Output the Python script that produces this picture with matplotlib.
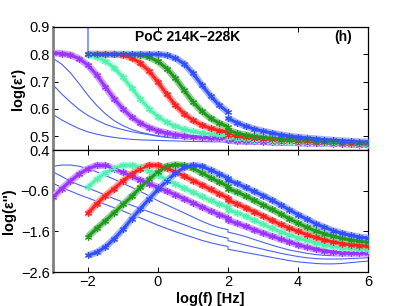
import numpy as np
import matplotlib
matplotlib.use("Agg")
import matplotlib.pyplot as plt

plt.rcParams['font.family'] = ['Liberation Sans', 'DejaVu Sans']

# ---------------- data ----------------
LOGF = [-3.0, -2.75, -2.5, -2.25, -2.0, -1.75, -1.5, -1.25, -1.0, -0.75, -0.5, -0.25,
        0.0, 0.25, 0.5, 0.75, 1.0, 1.25, 1.5, 1.75, 2.0,
        2.0, 2.25, 2.5, 2.75, 3.0, 3.25, 3.5, 3.75, 4.0, 4.25, 4.5, 4.75, 5.0, 5.25, 5.5, 5.75, 6.0]
LOGF_M = LOGF[4:]  # marker series start at -2

# log(eps') top panel
EPS1_BLUE = [0.800, 0.800, 0.800, 0.800, 0.800, 0.800, 0.800, 0.800, 0.800, 0.797, 0.786, 0.765, 0.730, 0.688, 0.648, 0.614, 0.588,
             0.566, 0.550, 0.537, 0.527, 0.519, 0.512, 0.506, 0.501, 0.497, 0.494, 0.491, 0.488, 0.486, 0.484, 0.482, 0.480, 0.479]
EPS1_GREEN = [0.800, 0.800, 0.800, 0.800, 0.800, 0.800, 0.797, 0.790, 0.774, 0.748, 0.712, 0.668, 0.626, 0.592, 0.566, 0.548, 0.535,
              0.522, 0.512, 0.505, 0.500, 0.496, 0.493, 0.491, 0.489, 0.487, 0.485, 0.483, 0.482, 0.480, 0.479, 0.478, 0.477, 0.476]
EPS1_RED = [0.800, 0.800, 0.800, 0.800, 0.797, 0.787, 0.768, 0.738, 0.698, 0.654, 0.614, 0.582, 0.558, 0.541, 0.529, 0.521, 0.515,
            0.505, 0.500, 0.496, 0.493, 0.491, 0.489, 0.487, 0.485, 0.484, 0.482, 0.481, 0.480, 0.478, 0.477, 0.476, 0.475, 0.474]
EPS1_AQUA = [0.797, 0.790, 0.775, 0.750, 0.716, 0.676, 0.636, 0.600, 0.572, 0.551, 0.536, 0.526, 0.518, 0.512, 0.508, 0.505, 0.502,
             0.495, 0.492, 0.489, 0.487, 0.485, 0.484, 0.482, 0.481, 0.480, 0.479, 0.478, 0.477, 0.476, 0.475, 0.474, 0.473, 0.472]
EPS1_PURPLE = [0.805, 0.803, 0.798, 0.784, 0.760, 0.724, 0.680, 0.637, 0.600, 0.570, 0.548, 0.532, 0.520, 0.512, 0.506, 0.502,
               0.499, 0.497, 0.495, 0.494, 0.493,
               0.486, 0.484, 0.483, 0.482, 0.481, 0.480, 0.479, 0.478, 0.477, 0.476, 0.475, 0.474, 0.473, 0.472, 0.471, 0.470, 0.469]
EPS1_THIN_A = [0.785, 0.764, 0.732, 0.692, 0.650, 0.613, 0.582, 0.557, 0.539, 0.525, 0.515, 0.508, 0.502, 0.498, 0.495, 0.493,
               0.491, 0.489, 0.488, 0.487, 0.486,
               0.480, 0.479, 0.478, 0.477, 0.476, 0.475, 0.474, 0.473, 0.472, 0.471, 0.470, 0.469, 0.468, 0.468, 0.467, 0.467, 0.466]
EPS1_THIN_B = [0.688, 0.655, 0.625, 0.598, 0.576, 0.559, 0.544, 0.533, 0.524, 0.517, 0.511, 0.506, 0.500, 0.496, 0.493, 0.491,
               0.489, 0.487, 0.486, 0.485, 0.484,
               0.478, 0.477, 0.476, 0.475, 0.474, 0.473, 0.472, 0.471, 0.470, 0.469, 0.468, 0.467, 0.466, 0.466, 0.465, 0.465, 0.464]
EPS1_THIN_C = [0.580, 0.560, 0.543, 0.528, 0.516, 0.508, 0.501, 0.496, 0.492, 0.489, 0.487, 0.486, 0.485, 0.484, 0.483, 0.482,
               0.481, 0.481, 0.480, 0.480, 0.479,
               0.474, 0.473, 0.472, 0.471, 0.470, 0.469, 0.468, 0.467, 0.466, 0.465, 0.465, 0.464, 0.463, 0.463, 0.462, 0.462, 0.461]
SPIKE_X = [-2.0, -2.0]
SPIKE_Y = [0.800, 0.950]

# log(eps'') bottom panel
EPS2_BLUE = [-2.19, -2.12, -1.98, -1.78, -1.55, -1.29, -1.04, -0.80, -0.57, -0.36, -0.17, -0.03, 0.03, 0.00, -0.09, -0.19, -0.29,
             -0.34, -0.42, -0.52, -0.62, -0.72, -0.83, -0.95, -1.07, -1.19, -1.30, -1.41, -1.50, -1.58, -1.65, -1.70, -1.74, -1.77]
EPS2_GREEN = [-1.73, -1.53, -1.34, -1.14, -0.94, -0.74, -0.52, -0.32, -0.14, 0.00, 0.04, 0.02, -0.05, -0.16, -0.28, -0.39, -0.49,
              -0.55, -0.63, -0.73, -0.84, -0.95, -1.06, -1.17, -1.29, -1.40, -1.50, -1.59, -1.66, -1.72, -1.77, -1.81, -1.84, -1.87]
EPS2_RED = [-1.16, -0.92, -0.72, -0.55, -0.36, -0.19, -0.06, 0.03, 0.02, -0.05, -0.14, -0.24, -0.35, -0.46, -0.57, -0.68, -0.78,
            -0.84, -0.92, -1.02, -1.12, -1.22, -1.33, -1.43, -1.52, -1.60, -1.68, -1.75, -1.81, -1.86, -1.90, -1.93, -1.95, -1.97]
EPS2_AQUA = [-0.51, -0.32, -0.16, -0.05, 0.02, 0.03, -0.03, -0.12, -0.22, -0.33, -0.44, -0.54, -0.64, -0.74, -0.84, -0.93, -1.01,
             -1.07, -1.14, -1.23, -1.33, -1.43, -1.52, -1.61, -1.69, -1.76, -1.82, -1.88, -1.93, -1.97, -2.00, -2.02, -2.04, -2.05]
EPS2_PURPLE = [-0.76, -0.55, -0.36, -0.19, -0.06, 0.02, 0.02, -0.06, -0.15, -0.25, -0.34, -0.43, -0.52, -0.61, -0.70, -0.80,
               -0.90, -1.00, -1.10, -1.19, -1.27,
               -1.33, -1.40, -1.48, -1.56, -1.64, -1.72, -1.79, -1.86, -1.93, -1.99, -2.04, -2.08, -2.11, -2.13, -2.14, -2.14, -2.14]
EPS2_THIN_A = [0.00, 0.03, 0.03, 0.00, -0.06, -0.14, -0.23, -0.32, -0.42, -0.52, -0.62, -0.73, -0.85, -0.95, -1.05, -1.15,
               -1.25, -1.35, -1.44, -1.51, -1.56,
               -1.62, -1.67, -1.73, -1.80, -1.87, -1.94, -2.00, -2.06, -2.10, -2.14, -2.17, -2.19, -2.20, -2.20, -2.20, -2.19, -2.18]
EPS2_THIN_B = [-0.14, -0.25, -0.37, -0.46, -0.54, -0.62, -0.71, -0.80, -0.88, -0.96, -1.04, -1.12, -1.20, -1.28, -1.36, -1.44,
               -1.52, -1.59, -1.66, -1.72, -1.77,
               -1.83, -1.88, -1.94, -1.99, -2.04, -2.09, -2.14, -2.18, -2.22, -2.25, -2.27, -2.28, -2.28, -2.28, -2.27, -2.26, -2.25]
EPS2_THIN_C = [-0.42, -0.52, -0.61, -0.70, -0.78, -0.86, -0.94, -1.02, -1.10, -1.19, -1.27, -1.36, -1.45, -1.53, -1.61, -1.68,
               -1.75, -1.82, -1.88, -1.93, -1.97,
               -2.04, -2.08, -2.12, -2.16, -2.20, -2.24, -2.28, -2.32, -2.35, -2.37, -2.39, -2.40, -2.40, -2.39, -2.37, -2.35, -2.33]

XTICKS = [-2, 0, 2, 4, 6]
YTICKS_TOP = [0.5, 0.6, 0.7, 0.8, 0.9]
YTICKS_BOT = [-2.6, -1.6, -0.6, 0.4]
TITLE = "PoC 214K\u2013228K"
PANEL = "(h)"

# ---------------- styles ----------------
COL_THIN = '#4a63f2'
SERIES_STYLE = {
    'blue':   ('#3050ff', '#a6b2ff'),
    'green':  ('#1f9a1f', '#8fd08f'),
    'red':    ('#ff2020', '#ff9c9c'),
    'aqua':   ('#52f0ae', '#b2ffe0'),
    'purple': ('#9a34ff', '#cfa0ff'),
}


def split_at_jump(x, y):
    x = np.asarray(x, float)
    y = np.asarray(y, float)
    idx = np.where(np.diff(x) == 0)[0]
    if len(idx) == 0:
        return [(x, y)]
    k = idx[0] + 1
    return [(x[:k], y[:k]), (x[k:], y[k:])]


def draw_markers(ax, x, y, key):
    main, light = SERIES_STYLE[key]
    for xs, ys in split_at_jump(x, y):
        ax.plot(xs, ys, color=light, lw=5.0, solid_capstyle='butt', zorder=3)
        ax.plot(xs, ys, color=main, lw=2.2, zorder=4)
        ax.plot(xs, ys, ls='none', marker=(6, 2, 0), ms=5, mew=0.8, color=main, zorder=5)


fig = plt.figure(figsize=(4.07, 3.06), dpi=100)
ax1 = fig.add_axes([0.1302, 0.5098, 0.7740, 0.4020])
ax2 = fig.add_axes([0.1302, 0.1111, 0.7740, 0.3987])

# top panel
for yy in (EPS1_THIN_A, EPS1_THIN_B, EPS1_THIN_C):
    ax1.plot(LOGF, yy, color=COL_THIN, lw=0.8, zorder=2)
ax1.plot(SPIKE_X, SPIKE_Y, color='#8a9cff', lw=1.5, zorder=2)
draw_markers(ax1, LOGF, EPS1_PURPLE, 'purple')
draw_markers(ax1, LOGF_M, EPS1_AQUA, 'aqua')
draw_markers(ax1, LOGF_M, EPS1_RED, 'red')
draw_markers(ax1, LOGF_M, EPS1_GREEN, 'green')
draw_markers(ax1, LOGF_M, EPS1_BLUE, 'blue')

# bottom panel
for yy in (EPS2_THIN_A, EPS2_THIN_B, EPS2_THIN_C):
    ax2.plot(LOGF, yy, color=COL_THIN, lw=0.8, zorder=2)
draw_markers(ax2, LOGF, EPS2_PURPLE, 'purple')
draw_markers(ax2, LOGF_M, EPS2_AQUA, 'aqua')
draw_markers(ax2, LOGF_M, EPS2_RED, 'red')
draw_markers(ax2, LOGF_M, EPS2_GREEN, 'green')
draw_markers(ax2, LOGF_M, EPS2_BLUE, 'blue')

for ax in (ax1, ax2):
    ax.set_xlim(-3, 6)
    ax.set_xticks(XTICKS)
    ax.tick_params(direction='in', top=True, right=True, length=3.5, width=0.7,
                   labelsize=10.5, pad=2.5)
    for s in ax.spines.values():
        s.set_linewidth(0.9)
    ax.spines['left'].set_color('#808080')
    ax.spines['left'].set_linewidth(2.0)

ax1.set_ylim(0.45, 0.9)
ax1.set_yticks(YTICKS_TOP)
ax1.set_yticklabels([f"{v:.1f}" for v in YTICKS_TOP])
ax1.tick_params(labelbottom=False)
ax2.set_ylim(-2.6, 0.4)
ax2.set_yticks(YTICKS_BOT)
ax2.set_yticklabels([f"{v:.1f}".replace('-', '\u2212') for v in YTICKS_BOT])
ax2.set_xticklabels([f"{v}".replace('-', '\u2212') for v in XTICKS])

ax1.text(0.86, 0.862, TITLE, fontsize=10, fontweight='bold', ha='center', va='center', zorder=6)
ax1.text(5.3, 0.862, PANEL, fontsize=10, fontweight='bold', ha='center', va='center', zorder=6)

ax1.set_ylabel("log(\u03b5')", fontsize=10.5, fontweight='bold', labelpad=3)
ax2.set_ylabel("log(\u03b5'')", fontsize=10.5, fontweight='bold', labelpad=3)
ax2.set_xlabel("log(f) [Hz]", fontsize=10.5, fontweight='bold', labelpad=2)

fig.savefig("out.png", dpi=100)
